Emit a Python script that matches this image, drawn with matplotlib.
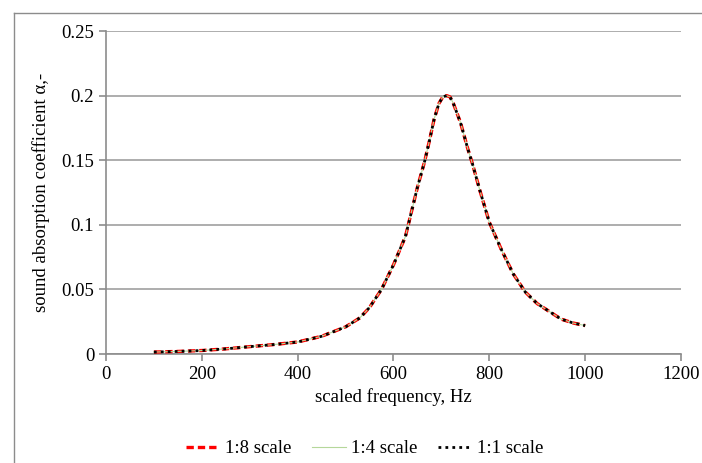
import numpy as np
import matplotlib.pyplot as plt
from matplotlib.lines import Line2D

# Data
freq = [100, 150, 200, 250, 300, 350, 400, 450, 500, 530, 550, 575, 600, 625,
        650, 665, 675, 685, 695, 703, 711, 718, 725, 740, 755, 765, 780, 800,
        825, 850, 875, 900, 925, 950, 975, 1000]
alpha = [0.0015, 0.002, 0.0027, 0.004, 0.0057, 0.0073, 0.0093, 0.0137, 0.021,
         0.028, 0.036, 0.05, 0.069, 0.091, 0.129, 0.149, 0.165, 0.182, 0.194,
         0.199, 0.2, 0.199, 0.194, 0.179, 0.159, 0.147, 0.127, 0.102, 0.081,
         0.062, 0.048, 0.039, 0.033, 0.027, 0.024, 0.022]
xticks = [0, 200, 400, 600, 800, 1000, 1200]
yticks = [0, 0.05, 0.1, 0.15, 0.2, 0.25]
ytick_labels = ['0', '0.05', '0.1', '0.15', '0.2', '0.25']

plt.rcParams['font.family'] = ['Liberation Serif', 'DejaVu Serif']
plt.rcParams['font.size'] = 13.5

fig = plt.figure(figsize=(7.02, 4.63), dpi=100)
ax = fig.add_axes([0.151, 0.2354, 0.819, 0.6976])

# outer chart border (only left and top edges are inside the picture)
bx, by = 13.5 / 702, 1 - 12.5 / 463
fig.lines.append(Line2D([bx, bx], [0, by], transform=fig.transFigure,
                        color='#8c8c8c', linewidth=1.0))
fig.lines.append(Line2D([bx, 1], [by, by], transform=fig.transFigure,
                        color='#8c8c8c', linewidth=1.0))

ax.plot(freq, alpha, color='#ff0000', linestyle=(0, (2.2, 1.2)), linewidth=2.4,
        label='1:8 scale', zorder=3)
ax.plot(freq, alpha, color='#b5d79a', linestyle='-', linewidth=0.8,
        label='1:4 scale', zorder=4)
ax.plot(freq, alpha, color='black', linestyle=(0, (1, 1.5)), linewidth=2.0,
        label='1:1 scale', zorder=5)

ax.set_xlim(0, 1200)
ax.set_ylim(0, 0.25)
ax.set_xticks(xticks)
ax.set_yticks(yticks)
ax.set_yticklabels(ytick_labels)
ax.grid(axis='y', color='#a0a0a0', linewidth=1.2)
ax.set_axisbelow(True)

for s in ['top', 'right']:
    ax.spines[s].set_visible(False)
for s in ['left', 'bottom']:
    ax.spines[s].set_color('#8c8c8c')
    ax.spines[s].set_linewidth(1.2)
ax.tick_params(axis='both', colors='#8c8c8c', labelcolor='black', length=5,
               width=1.2, direction='out', labelsize=13.5)

ax.set_xlabel('scaled frequency, Hz', fontsize=13.5, labelpad=4)
ax.set_ylabel('sound absorption coefficient α,-', fontsize=13.5, labelpad=8)

ax.legend(loc='upper center', bbox_to_anchor=(0.45, -0.215), ncol=3,
          frameon=False, fontsize=13.5, handlelength=1.8, columnspacing=1.1,
          handletextpad=0.27)

fig.savefig('out.png', dpi=100)
